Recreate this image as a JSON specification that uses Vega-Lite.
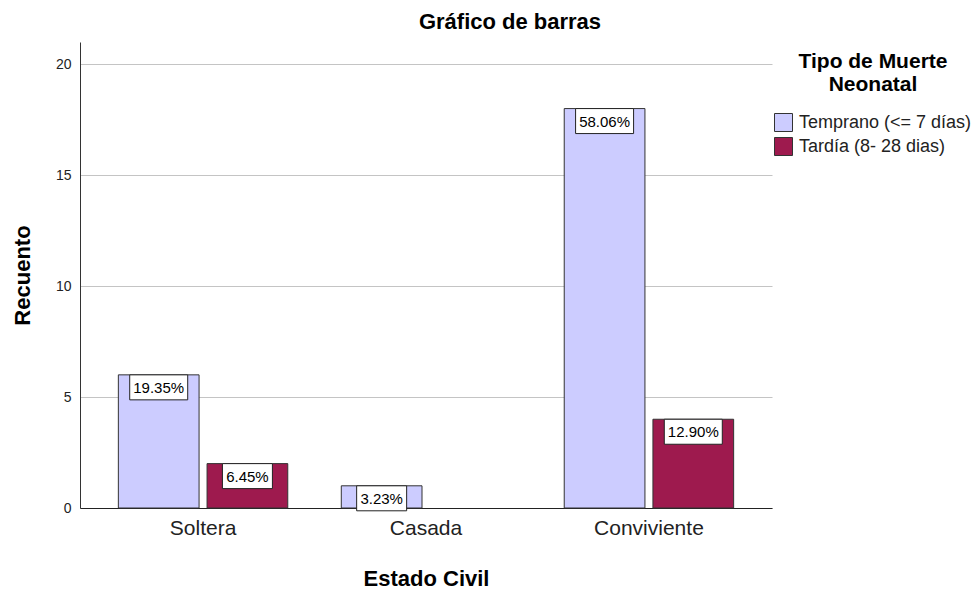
{
  "$schema": "https://vega.github.io/schema/vega-lite/v6.json",
  "autosize": {"type": "none"},
  "padding": {"left": 80, "top": 42, "right": 206, "bottom": 82},
  "width": 692,
  "height": 466,
  "background": "white",
  "config": {
    "font": "Liberation Sans",
    "view": {"stroke": null}
  },
  "title": {
    "text": "Gráfico de barras",
    "fontSize": 22,
    "fontWeight": "bold",
    "color": "#000000",
    "anchor": "middle",
    "frame": "group",
    "dx": 84,
    "offset": 8
  },
  "data": {
    "values": [
      {"estado": "Soltera", "tipo": "Temprano (<= 7 días)", "count": 6, "pct": "19.35%"},
      {"estado": "Soltera", "tipo": "Tardía (8- 28 dias)", "count": 2, "pct": "6.45%"},
      {"estado": "Casada", "tipo": "Temprano (<= 7 días)", "count": 1, "pct": "3.23%"},
      {"estado": "Conviviente", "tipo": "Temprano (<= 7 días)", "count": 18, "pct": "58.06%"},
      {"estado": "Conviviente", "tipo": "Tardía (8- 28 dias)", "count": 4, "pct": "12.90%"}
    ]
  },
  "encoding": {
    "x": {
      "field": "estado",
      "type": "nominal",
      "sort": ["Soltera", "Casada", "Conviviente"],
      "scale": {"paddingInner": 0.24, "paddingOuter": 0.172},
      "axis": {
        "title": "Estado Civil",
        "titleFontSize": 22,
        "titleFontWeight": "bold",
        "titleColor": "#000000",
        "titleY": 70,
        "titleBaseline": "middle",
        "labelAngle": 0,
        "labelFontSize": 21,
        "labelColor": "#222222",
        "labelPadding": 9,
        "ticks": false,
        "domainColor": "#222222",
        "domainWidth": 1
      }
    },
    "xOffset": {
      "field": "tipo",
      "type": "nominal",
      "sort": ["Temprano (<= 7 días)", "Tardía (8- 28 dias)"],
      "scale": {"paddingInner": 0.09, "paddingOuter": 0}
    },
    "y": {
      "field": "count",
      "type": "quantitative",
      "scale": {"domain": [0, 21], "nice": false},
      "axis": {
        "title": "Recuento",
        "titleFontSize": 22,
        "titleFontWeight": "bold",
        "titleColor": "#000000",
        "titleX": -58,
        "titleBaseline": "middle",
        "values": [0, 5, 10, 15, 20],
        "labelFontSize": 14,
        "labelColor": "#222222",
        "labelPadding": 9,
        "ticks": false,
        "domainColor": "#333333",
        "grid": true,
        "gridColor": "#c4c4c4",
        "gridWidth": 1
      }
    }
  },
  "layer": [
    {
      "mark": {"type": "bar", "stroke": "#333333", "strokeWidth": 1},
      "encoding": {
        "color": {
          "field": "tipo",
          "type": "nominal",
          "sort": ["Temprano (<= 7 días)", "Tardía (8- 28 dias)"],
          "scale": {
            "domain": ["Temprano (<= 7 días)", "Tardía (8- 28 dias)"],
            "range": ["#ccccff", "#9e1a4e"]
          },
          "legend": {
            "title": ["Tipo de Muerte", "Neonatal"],
            "orient": "none",
            "legendX": 694,
            "legendY": 9,
            "titleFontSize": 21,
            "titleFontWeight": "bold",
            "titleColor": "#000000",
            "titleAlign": "center",
            "titleAnchor": "middle",
            "titleLineHeight": 23,
            "titlePadding": 18,
            "symbolType": "square",
            "symbolSize": 324,
            "symbolStrokeColor": "#333333",
            "symbolStrokeWidth": 1,
            "symbolOpacity": 1,
            "labelFontSize": 18,
            "labelColor": "#222222",
            "labelOffset": 6,
            "labelLimit": 300,
            "rowPadding": 1
          }
        }
      }
    },
    {
      "mark": {
        "type": "point",
        "filled": true,
        "fill": "white",
        "stroke": "#222222",
        "strokeWidth": 1,
        "opacity": 1,
        "fillOpacity": 1,
        "size": 3364
      },
      "encoding": {
        "shape": {
          "condition": {"test": "length(datum.pct) > 5", "value": "M-1,0H1V0.862H-1Z"},
          "value": "M-0.862,0H0.862V0.862H-0.862Z"
        }
      }
    },
    {
      "mark": {"type": "text", "fontSize": 15, "color": "#000000", "baseline": "middle", "dy": 13},
      "encoding": {
        "text": {"field": "pct", "type": "nominal"}
      }
    }
  ]
}
